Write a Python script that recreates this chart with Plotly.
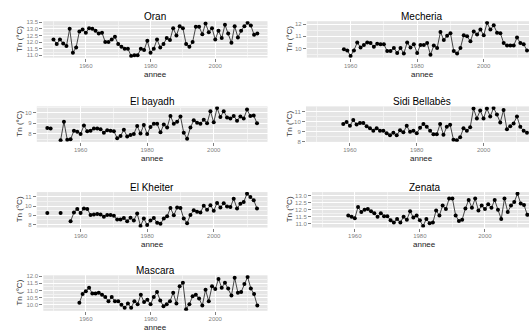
import plotly.graph_objects as go

# Annual mean minimum temperature (Tn, °C) per station, 1950-2013
YEARS = list(range(1950, 2014))

oran_tn = [12.2, 11.85, 12.2, 11.9, 11.7, 13.0, 11.2, 11.6, 12.8, 12.95,
           12.7, 13.05, 13.0, 12.85, 12.65, 12.7, 12.0, 12.0, 12.2, 12.4,
           11.85, 11.65, 11.5, 11.5, 10.95, 11.0, 11.0, 11.5, 11.4, 12.1,
           11.2, 11.5, 12.2, 11.6, 11.85, 12.3, 12.15, 13.05, 12.5, 13.2,
           13.05, 11.85, 11.65, 12.0, 13.15, 13.15, 12.6, 13.4, 12.75, 13.05,
           12.2, 12.85, 12.3, 13.3, 12.65, 11.95, 13.2, 12.35, 12.85, 13.2,
           13.45, 13.25, 12.55, 12.65]

mecheria_tn = [None, None, None, None, None, None, None, None, 9.95, 9.85,
               9.4, 9.85, 10.5, 10.1, 10.3, 10.5, 10.45, 10.15, 10.4, 10.35,
               10.35, 9.8, 9.8, 10.05, 9.65, 10.05, 9.6, 10.5, 10.1, 10.35,
               9.65, 10.3, 10.3, 10.45, 9.5, 10.25, 10.05, 11.35, 10.7, 11.05,
               11.25, 9.8, 9.6, 10.05, 11.1, 11.0, 10.6, 11.4, 11.15, 11.55,
               11.1, 12.1, 11.55, 11.9, 11.3, 11.25, 10.45, 10.25, 10.25, 10.25,
               10.9, 10.45, 10.35, 9.85]

elbayadh_tn = [8.55, 8.5, None, None, 7.4, 9.15, 7.45, 7.5, 8.3, 8.2,
               8.0, 8.8, 8.25, 8.3, 8.5, 8.5, 8.45, 8.1, 8.35, 8.3,
               8.25, 7.6, 7.8, 8.4, 7.75, 7.9, 8.0, 8.75, 8.05, 8.85,
               8.0, 8.65, 8.95, 8.95, 8.15, 8.9, 8.6, 9.7, 8.95, 9.15,
               9.65, 8.1, 7.55, 8.6, 9.3, 9.05, 8.95, 9.35, 9.0, 10.15,
               9.1, 10.45, 9.6, 10.15, 9.55, 9.45, 9.7, 9.25, 9.65, 9.45,
               10.3, 9.7, 9.75, 9.0]

sidibel_tn = [None, None, None, None, None, None, None, None, 9.8, 10.0,
              9.6, 10.2, 9.75, 9.9, 9.9, 9.55, 9.35, 9.1, 9.35, 9.1,
              9.1, 8.85, 8.65, 8.9, 8.65, 9.15, 8.95, 9.6, 9.0, 9.1,
              8.85, 9.4, 9.8, 9.5, 9.1, 8.75, 8.75, 9.8, 8.7, 9.5,
              9.7, 8.2, 8.15, 8.45, 9.35, 9.1, 9.45, 11.35, 10.35, 11.15,
              10.35, 11.35, 10.55, 11.4, 10.75, 9.95, 11.2, 9.25, 9.55, 9.85,
              10.55, 9.5, 9.1, 8.9]

elkheiter_tn = [9.25, None, None, None, 9.25, None, None, 8.35, 9.3, 9.7,
                9.25, 9.75, 9.7, 9.05, 9.1, 9.15, 9.1, 8.85, 9.05, 9.05,
                8.95, 8.55, 8.55, 8.7, 8.35, 8.75, 8.45, 9.2, 7.85, 8.65,
                7.95, 8.45, 8.7, 8.2, 8.1, 8.65, 8.9, 9.8, 9.0, 9.85,
                9.8, 8.65, 8.15, 9.05, 9.55, 9.4, 9.3, 10.05, 9.6, 10.1,
                9.5, 10.35, 9.85, 10.3, 9.95, 9.9, 10.8, 9.75, 10.25, 10.45,
                11.35, 11.0, 10.65, 9.75]

zenata_tn = [None, None, None, None, None, None, None, None, 11.6, 11.5,
             11.4, 12.2, 11.85, 12.0, 12.05, 11.9, 11.75, 11.5, 11.75, 11.55,
             11.55, 11.25, 11.1, 11.35, 11.1, 11.5, 11.3, 11.9, 11.45, 11.6,
             11.25, 10.85, 11.35, 11.05, 11.1, 11.95, 11.6, 12.3, 12.05, 12.8,
             12.8, 11.6, 11.2, 11.3, 12.1, 12.7, 12.15, 12.8, 11.95, 12.3,
             12.05, 12.4, 12.15, 12.7, 12.0, 11.35, 12.8, 11.85, 12.3, 12.55,
             13.15, 12.45, 12.35, 11.65]

mascara_tn = [None, None, None, None, None, None, None, None, 10.15, 10.75,
              10.95, 11.2, 10.8, 10.8, 10.85, 10.7, 10.55, 10.25, 10.55, 10.25,
              10.25, 10.0, 9.8, 10.1, 9.8, 10.25, 10.05, 10.7, 10.2, 10.35,
              10.05, 10.55, 10.9, 10.3, 9.9, 10.05, 10.25, 10.85, 10.1, 11.3,
              11.55, 9.7, 10.05, 10.6, 10.7, 10.45, 9.95, 11.05, 10.25, 11.3,
              11.1, 11.8, 11.2, 11.55, 11.15, 10.65, 11.9, 10.85, 10.9, 11.45,
              11.95, 11.15, 10.75, 9.95]

STATION_NAMES = ["Oran", "Mecheria", "El bayadh", "Sidi Bellabès",
                 "El Kheiter", "Zenata", "Mascara"]
STATION_VALUES = [oran_tn, mecheria_tn, elbayadh_tn, sidibel_tn,
                  elkheiter_tn, zenata_tn, mascara_tn]
Y_STEPS = [0.5, 1, 1, 1, 1, 0.5, 0.5]
X_TICKS = [1960, 1980, 2000]

# ---- layout (pixels) ----
W, H = 529, 332
# panel boxes: left, right (may run past the page edge), top, bottom
PANELS = [
    (43.3, 267.5, 19.5, 56.5),
    (306.8, 537.5, 19.5, 56.5),
    (36.8, 267.5, 106.0, 142.0),
    (306.0, 537.5, 106.0, 142.0),
    (36.8, 267.5, 193.0, 229.0),
    (312.0, 537.5, 193.0, 229.0),
    (43.3, 267.5, 277.5, 313.5),
]
COL_STARTS = [0, 270, 0, 270, 0, 270, 0]
X0, X1 = 1946.85, 2016.15

FONT = "Liberation Sans, Arial, sans-serif"
PANEL_BG = "#E5E5E5"
MINOR_GRID = "#F2F2F2"
TICK_GREY = "#7F7F7F"

fig = go.Figure()
annotations = []
layout_axes = {}

for i, (name, vals, step) in enumerate(zip(STATION_NAMES, STATION_VALUES, Y_STEPS)):
    left, right, top, bottom = PANELS[i]
    vis_right = min(right, W)
    x_end = X0 + (X1 - X0) * (vis_right - left) / (right - left)

    finite = [v for v in vals if v is not None]
    lo, hi = min(finite), max(finite)
    pad = 0.05 * (hi - lo)

    sfx = "" if i == 0 else str(i + 1)
    fig.add_trace(go.Scatter(
        x=YEARS, y=vals, mode="lines+markers",
        xaxis="x" + sfx, yaxis="y" + sfx,
        line=dict(color="#1a1a1a", width=0.8),
        marker=dict(color="black", size=4),
        connectgaps=False, showlegend=False, hoverinfo="skip",
    ))

    layout_axes["xaxis" + sfx] = dict(
        domain=[left / W, vis_right / W], range=[X0, x_end],
        anchor="y" + sfx, tickmode="array", tickvals=X_TICKS,
        ticktext=[str(t) for t in X_TICKS],
        ticks="outside", ticklen=3, tickwidth=1, tickcolor=TICK_GREY,
        ticklabelstandoff=-1,
        tickfont=dict(family=FONT, size=6, color=TICK_GREY),
        showgrid=True, gridcolor="white", gridwidth=1,
        minor=dict(tickmode="array", tickvals=[1950, 1970, 1990, 2010],
                   showgrid=True, gridcolor=MINOR_GRID, gridwidth=0.6, ticks=""),
        zeroline=False, showline=False, fixedrange=True,
    )
    layout_axes["yaxis" + sfx] = dict(
        domain=[1 - bottom / H, 1 - top / H], range=[lo - pad, hi + pad],
        anchor="x" + sfx, tickmode="linear", tick0=0, dtick=step,
        tickformat=".1f" if step < 1 else "d",
        ticks="outside", ticklen=3, tickwidth=1, tickcolor=TICK_GREY,
        tickfont=dict(family=FONT, size=6, color=TICK_GREY),
        showgrid=True, gridcolor="white", gridwidth=1,
        minor=dict(tick0=step / 2, dtick=step, showgrid=True,
                   gridcolor=MINOR_GRID, gridwidth=0.6, ticks=""),
        zeroline=False, showline=False, fixedrange=True,
    )

    cx = (left + right) / 2 / W
    annotations.append(dict(
        text=name, x=cx, y=1 - (top - 5) / H, xref="paper", yref="paper",
        xanchor="center", yanchor="middle", showarrow=False,
        font=dict(family=FONT, size=10, color="black")))
    annotations.append(dict(
        text="annee", x=cx, y=1 - (bottom + 17) / H, xref="paper", yref="paper",
        xanchor="center", yanchor="middle", showarrow=False,
        font=dict(family=FONT, size=8, color="#222222")))
    annotations.append(dict(
        text="Tn (°C)", x=(COL_STARTS[i] + 19.5) / W, y=1 - (top + bottom) / 2 / H,
        xref="paper", yref="paper", xanchor="center", yanchor="middle",
        textangle=-90, showarrow=False,
        font=dict(family=FONT, size=8, color="#333333")))

fig.update_layout(
    width=W, height=H, autosize=False,
    margin=dict(l=0, r=0, t=0, b=0),
    paper_bgcolor="white", plot_bgcolor=PANEL_BG,
    font=dict(family=FONT),
    annotations=annotations,
    **layout_axes,
)

fig.write_html("out.html", config={"displayModeBar": False})
